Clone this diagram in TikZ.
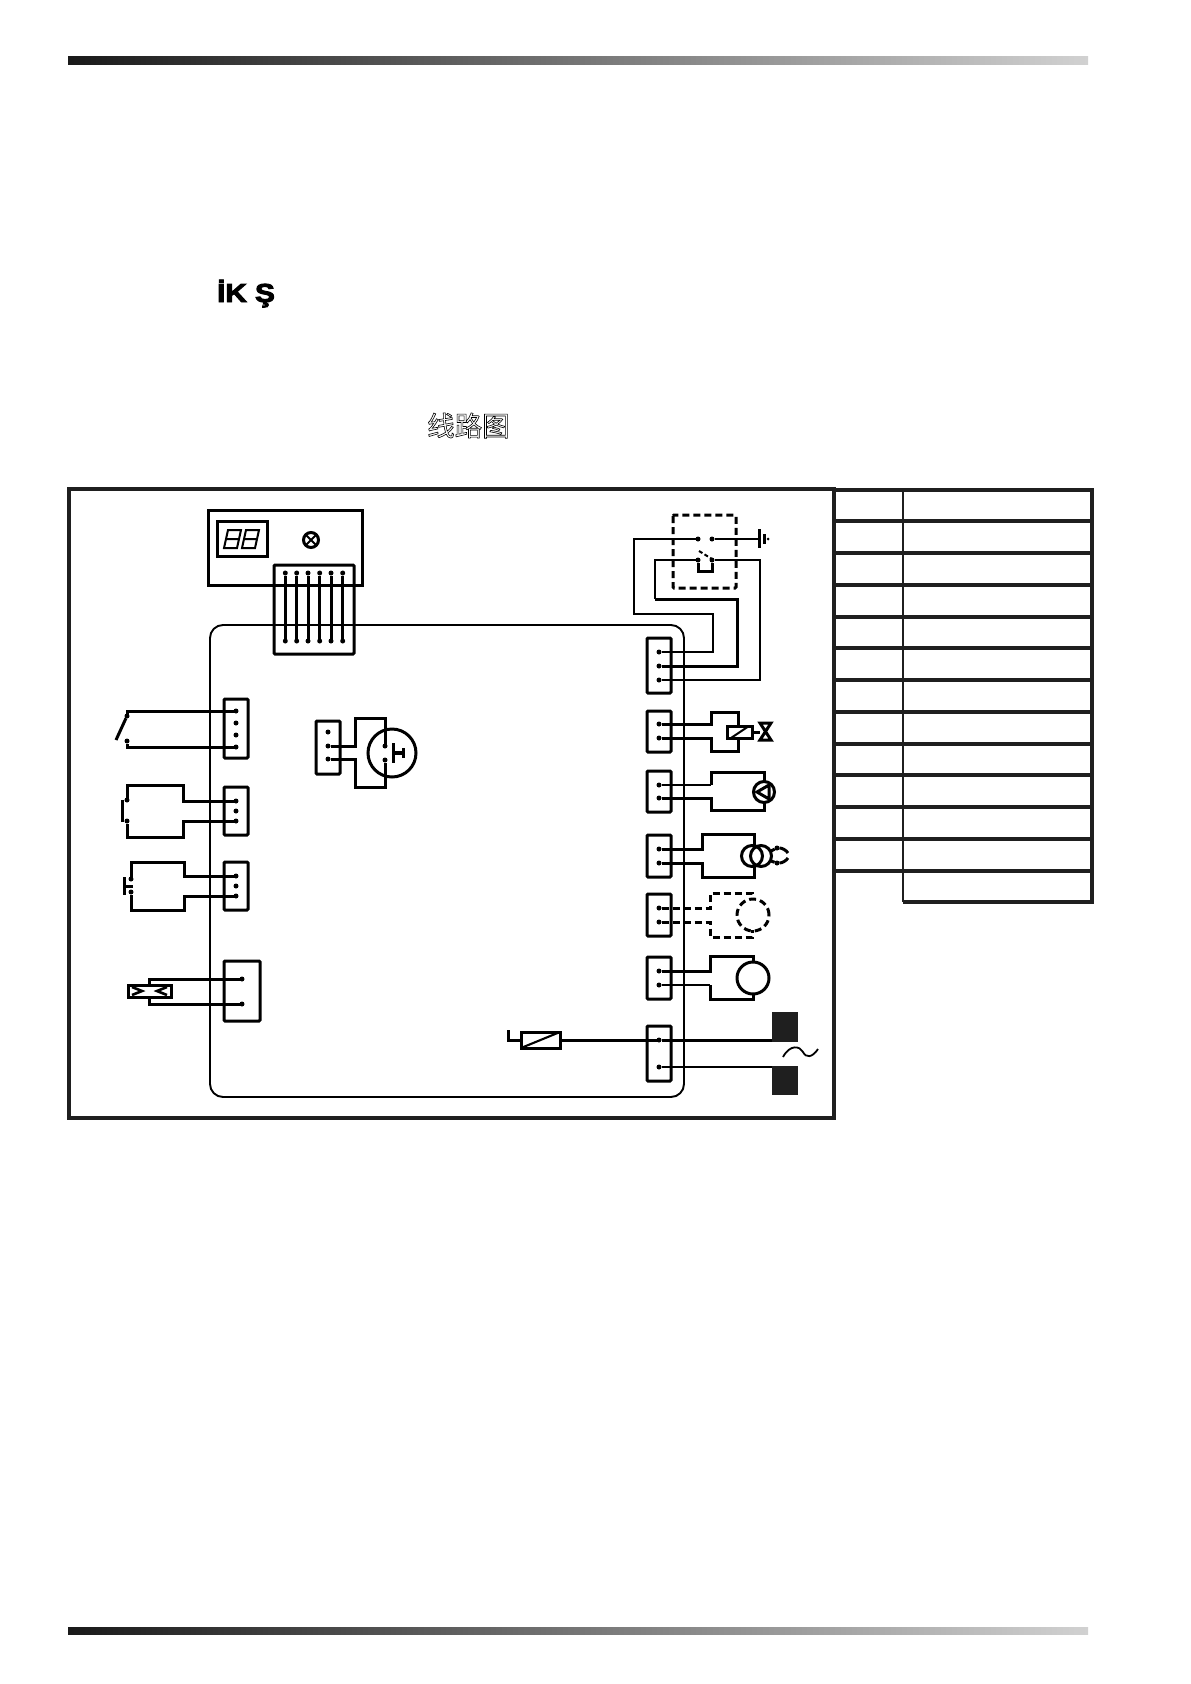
\documentclass[tikz,border=0pt]{standalone}
\usepackage{fontspec}
\setmainfont{Liberation Sans}
\newfontfamily\cjk{Noto Sans CJK SC}
\tikzset{
  conn/.style={draw,rectangle,rounded corners=1pt,line width=3pt,inner sep=0pt,outer sep=0pt},
  pin/.style={circle,fill,inner sep=0pt,minimum size=5pt,outer sep=0pt},
  wire/.style={line width=3pt,line join=miter},
  thinwire/.style={line width=2.1pt},
  dashwire/.style={line width=3pt,dash pattern=on 7pt off 4pt},
  symb/.style={draw,circle,line width=3pt,inner sep=0pt,outer sep=0pt},
  box/.style={draw,rectangle,line width=3pt,inner sep=0pt,outer sep=0pt},
  frameline/.style={line width=3.8pt,color=black!88},
  term/.style={rectangle,fill=black!88,inner sep=0pt,outer sep=0pt,minimum width=26pt,minimum height=30pt}
}
\begin{document}
\begin{tikzpicture}[x=1pt,y=-1pt]
\useasboundingbox (0,0) rectangle (1191,1684);
\shade[left color=black!90,right color=black!18] (68,56) rectangle (1088,64);
\shade[left color=black!90,right color=black!18] (68,1627) rectangle (1088,1634);
\node[anchor=base west,inner sep=0pt,xscale=1.14,font=\bfseries\fontsize{26}{26}\selectfont] (title) at (217,302) {\special{pdf:code q 2 Tr 0.9 w}İK Ş\special{pdf:code Q}};
\node[anchor=base west,inner sep=0pt,font=\cjk\fontsize{27.5}{27.5}\selectfont] (subtitle) at (427,436) {\special{pdf:code q 1 Tr 0.6 w}线路图\special{pdf:code Q}};
\draw[frameline] (69,489) rectangle (834,1118);
\draw[frameline] (834,490)--(1092,490)--(1092,902)--(903,902);
\foreach \y in {521,553,585,617,648,680,712,744,775,807,839,871} \draw[frameline] (834,\y)--(1092,\y);
\draw[line width=2.6pt,color=black!88] (903,490)--(903,902);
\draw[line width=1.9pt,rounded corners=13pt] (210,625) rectangle (684,1097);
\node[box,minimum width=154pt,minimum height=75pt] (panel) at (285,547.5) {};
\node[box,minimum width=50pt,minimum height=35pt] (display) at (242,538.5) {};
\foreach \x in {224,242} \draw[line width=2pt] (\x+4,530)--(\x+17,530)--(\x+13,548)--(\x,548)--cycle (\x+2,539)--(\x+15,539);
\node[symb,minimum size=15pt] (lamp) at (311,540) {};
\draw[line width=2pt] (lamp.north west)--(lamp.south east) (lamp.north east)--(lamp.south west);
\foreach \n/\x/\y/\w/\h in {cdisp/314/609.5/80/89,ca/236/728.5/24/59,cb/236/811/24/48,cc/236/886/24/48,cd/242/991/36/60,cm/328/747.5/24/53,ct/659/665.5/24/55,ce/659/731.5/24/41,cf/659/791.5/24/41,cg/659/856/24/42,ch/659/915/24/42,ci/659/978/24/42,cj/659/1053.5/24/55}
  \node[conn,minimum width=\w pt,minimum height=\h pt] (\n) at (\x,\y) {};
\foreach \n/\x/\y in {a1/236/711,a2/236/723,a3/236/735,a4/236/747,b1/236/801,b2/236/811,b3/236/821,c1/236/876,c2/236/886,c3/236/896,d1/242/979,d2/242/1004,m1/328/732,m2/328/746,m3/328/759,t1/659/652,t2/659/666,t3/659/680,e1/659/724,e2/659/738,f1/659/785,f2/659/798,g1/659/849,g2/659/863,h1/659/908,h2/659/922,i1/659/971,i2/659/985,j1/659/1040,j2/659/1067,sa/127/716,sb/127/741,sc/127/800,sd/127/821,se/131/879,sf/131/892,mf/385/746,mg/385/760,ga/698/539,gb/712/539,gc/698/560,gd/712/560,ea/777/848,eb/777/863}
  \node[pin] (\n) at (\x,\y) {};
\foreach \x/\k in {285.3/1,296.7/2,308/3,319.7/4,331/5,342.7/6} {
  \node[pin] (up\k) at (\x,573) {};
  \node[pin] (dn\k) at (\x,641) {};
  \draw[wire] (up\k)--(dn\k);
}
\draw[wire] (a1)--(127,711)--(sa) (a4)--(127,747)--(sb);
\draw[wire] (sa)--(116,740);
\draw[wire] (b1)--(183,801)--(183,785)--(127,785)--(sc) (b3)--(183,821)--(183,837)--(127,837)--(sd);
\draw[wire] (122,800)--(122,822);
\draw[wire] (c1)--(184,876)--(184,862)--(131,862)--(se) (c3)--(184,896)--(184,910)--(131,910)--(sf);
\draw[wire] (124,877)--(124,895) (124,886)--(133,886);
\node[box,minimum width=43pt,minimum height=12pt] (sensor) at (149.5,991) {};
\draw[wire] (d1)--(149,979)--(sensor.north-|149,0) (d2)--(149,1004)--(sensor.south-|149,0);
\draw[line width=2.6pt] (132,987)--(142,991)--(132,995) (167,987)--(157,991)--(167,995);
\node[symb,minimum size=48pt] (fan) at (392,753) {};
\draw[wire] (m2)--(355,746)--(355,718)--(385,718)--(mf) (m3)--(355,759)--(355,787)--(385,787)--(mg);
\draw[wire] (393,743)--(393,763);
\draw[line width=4pt] (393,753)--(404,753);
\draw[wire] (403.5,748)--(403.5,758);
\draw[line width=3pt,dash pattern=on 7pt off 4pt,rounded corners=1pt] (673,515) rectangle (736,588);
\draw[thinwire] (t1)--(713,652)--(713,614)--(634,614)--(634,539)--(ga);
\draw[thinwire] (gc)--(655,560)--(655,599);
\draw[wire] (655,599)--(737,599)--(737,666)--(t2);
\draw[thinwire] (t3)--(760,680)--(760,560)--(gd);
\draw[thinwire] (gb)--(759,539);
\draw[wire] (759.5,529)--(759.5,548) (764,534)--(764,544);
\fill (768,539) circle (1.5pt);
\draw[wire] (gc)--(698,571)--(712,571)--(gd);
\draw[line width=2pt,dash pattern=on 4pt off 2.5pt] (699,551)--(712,559);
\node[box,minimum width=25pt,minimum height=12pt] (coil) at (739.5,732) {};
\draw[wire] (e1)--(711,724)--(711,712)--(738,712)--(738,726) (e2)--(711,738)--(711,751)--(738,751)--(738,738);
\draw[line width=2pt] (731,738)--(749,726);
\draw[wire] (coil)--(760,732);
\draw[wire] (760,723)--(771,723)--(760,740)--(771,740)--cycle;
\node[symb,minimum size=21pt] (pump) at (764,792) {};
\draw[thinwire] (f1)--(711,785);
\draw[wire] (711,785)--(711,772)--(764,772)--(pump);
\draw[wire] (f2)--(711,798)--(711,810)--(764,810)--(pump);
\draw[wire] (757,792)--(769,785)--(769,799)--cycle;
\node[symb,minimum size=21pt] (transa) at (752,856) {};
\node[symb,minimum size=21pt] (transb) at (761,856) {};
\draw[wire] (g1)--(702,849)--(702,834)--(754,834)--(754,845.5) (g2)--(702,863)--(702,877)--(754,877)--(754,866.5);
\draw[wire] (771,851)--(ea) (771,861)--(eb);
\draw[wire] (ea) .. controls (782,848) and (786,850) .. (788,853) (eb) .. controls (782,863) and (786,861) .. (788,858);
\node[symb,dash pattern=on 7pt off 4pt,minimum size=32pt] (fandash) at (753,915) {};
\draw[dashwire] (h1)--(710,908)--(710,893)--(752,893)--(752,900) (h2)--(710,922)--(710,937)--(752,937)--(752,930);
\node[symb,minimum size=32pt] (motor) at (753,978) {};
\draw[wire] (i1)--(710,971)--(710,956)--(753,956)--(motor);
\draw[thinwire] (i2)--(710,985);
\draw[wire] (710,985)--(710,999)--(753,999)--(motor);
\node[box,minimum width=39pt,minimum height=16pt] (fuse) at (540.5,1040) {};
\draw[thinwire] (fuse.south west)--(fuse.north east);
\node[term] (la) at (785,1027) {};
\node[term,minimum height=29pt] (lb) at (785,1080.5) {};
\draw[wire] (508,1030)--(508,1040)--(fuse.west);
\draw[wire] (fuse.east)--(j1)--(la.west|-j1);
\draw[thinwire] (j2)--(lb.west|-j2);
\draw[line width=1.8pt] (783,1057) .. controls (790,1044) and (800,1046) .. (803,1052) .. controls (806,1058) and (812,1058) .. (818,1049);
\end{tikzpicture}
\end{document}
